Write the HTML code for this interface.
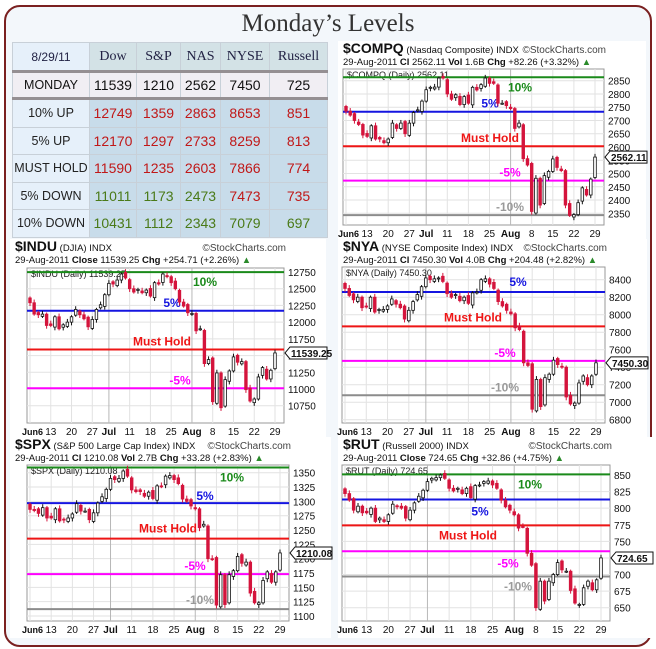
<!DOCTYPE html>
<html><head><meta charset="utf-8">
<style>
body{margin:0;background:#fff;}
#root{position:relative;width:656px;height:649px;overflow:hidden;font-family:"Liberation Sans",sans-serif;}
#frame{position:absolute;left:4px;top:5px;width:644px;height:638px;border:2px solid #7a2020;border-radius:16px;background:#f3f7fb;}
#title{position:absolute;left:0;top:10px;width:656px;text-align:center;font-family:"Liberation Serif",serif;font-size:25px;color:#333;}
table{position:absolute;left:12px;top:42px;width:315px;border-collapse:collapse;table-layout:fixed;font-size:13px;}
td{border:1px solid #c8d0d8;text-align:center;height:26px;padding:0;white-space:nowrap;overflow:hidden;}
td.c0{background:#e6f0fa;color:#222;font-size:12.5px;}
tr.hd td{background:#d3e2e6;font-family:"Liberation Serif",serif;font-size:14px;color:#224;height:27px;}
tr.hd td.c0{background:#e6f0fa;font-family:"Liberation Sans",sans-serif;font-size:12px;}
tr.mon td{background:#f1eef3;color:#111;border-top:3px solid #958f92;border-bottom:3px solid #958f92;height:24px;font-size:14px;}
tr.mon td.c0{font-size:12.5px;}
tr.b td{background:#c8dcea;height:26.5px;font-size:14px;}
tr.b td.c0{background:#e6f0fa;font-size:12.5px;}
.r{color:#c01818;} .g{color:#4a7a18;}
</style></head><body>
<div id="root">
<div id="frame"></div>
<div id="title">Monday’s Levels</div>
<table>
<colgroup><col style="width:77px"><col style="width:47px"><col style="width:44px"><col style="width:40px"><col style="width:49px"><col style="width:58px"></colgroup>
<tr class="hd"><td class="c0">8/29/11</td><td>Dow</td><td>S&amp;P</td><td>NAS</td><td>NYSE</td><td>Russell</td></tr>
<tr class="mon"><td class="c0">MONDAY</td><td>11539</td><td>1210</td><td>2562</td><td>7450</td><td>725</td></tr>
<tr class="b"><td class="c0">10% UP</td><td class="r">12749</td><td class="r">1359</td><td class="r">2863</td><td class="r">8653</td><td class="r">851</td></tr>
<tr class="b"><td class="c0">5% UP</td><td class="r">12170</td><td class="r">1297</td><td class="r">2733</td><td class="r">8259</td><td class="r">813</td></tr>
<tr class="b"><td class="c0">MUST HOLD</td><td class="r">11590</td><td class="r">1235</td><td class="r">2603</td><td class="r">7866</td><td class="r">774</td></tr>
<tr class="b"><td class="c0">5% DOWN</td><td class="g">11011</td><td class="g">1173</td><td class="g">2473</td><td class="r">7473</td><td class="r">735</td></tr>
<tr class="b"><td class="c0">10% DOWN</td><td class="g">10431</td><td class="g">1112</td><td class="g">2343</td><td class="g">7079</td><td class="g">697</td></tr>
</table>
<svg id="sv" width="656" height="649" style="position:absolute;left:0;top:0"></svg>
</div>
<script>
const dayLabels=["Jun6","13","20","27","Jul","11","18","25","Aug","8","15","22","29"];
const dayLabelIdx=[0,5,10,15,19,24,29,34,39,44,49,54,59];
const compqClose=[2735,2720,2700,2685,2645,2640,2680,2630,2630,2616,2630,2690,2670,2690,2650,2690,2730,2740,2773,2816,2825,2826,2860,2860,2800,2780,2797,2760,2790,2765,2825,2815,2835,2860,2840,2840,2765,2765,2756,2745,2670,2690,2556,2532,2357,2482,2381,2492,2508,2555,2523,2511,2381,2342,2345,2390,2446,2419,2479,2562];
const induClose=[12290,12120,12110,12120,11950,11950,12080,11900,11960,12000,12080,12190,12110,12050,11930,12040,12190,12260,12410,12580,12570,12630,12720,12660,12500,12450,12490,12440,12480,12390,12590,12570,12720,12680,12590,12500,12300,12240,12140,12130,11870,11900,11380,11440,10810,11240,10720,11140,11270,11480,11400,11410,10990,10820,10850,11180,11320,11150,11280,11539];
const nyaClose=[8300,8220,8170,8200,8080,8090,8200,8030,8060,8060,8100,8180,8120,8080,7950,8050,8150,8230,8320,8420,8400,8410,8420,8380,8240,8200,8230,8160,8200,8130,8250,8260,8400,8410,8350,8300,8150,8100,8050,8010,7850,7830,7450,7420,6920,7260,6950,7280,7320,7480,7430,7400,7060,6980,6990,7220,7300,7200,7300,7450];
const spxClose=[1286,1284,1279,1289,1271,1271,1287,1266,1268,1271,1278,1296,1283,1283,1268,1280,1297,1308,1321,1340,1338,1340,1353,1344,1320,1317,1317,1309,1316,1305,1327,1326,1344,1345,1338,1331,1304,1300,1292,1287,1254,1260,1200,1199,1119,1172,1120,1172,1179,1204,1192,1194,1140,1123,1123,1162,1177,1159,1177,1210];
const rutClose=[822,812,797,803,793,793,800,780,785,780,790,806,803,800,785,797,808,818,827,840,845,846,850,845,830,826,830,822,830,816,834,835,840,841,835,830,812,802,797,790,770,772,732,714,650,690,660,690,700,718,707,705,676,657,655,680,690,677,692,725];
const compqTicks=[2350,2400,2450,2500,2550,2600,2650,2700,2750,2800,2850];
const induTicks=[10750,11000,11250,11500,11750,12000,12250,12500,12750];
const nyaTicks=[6800,7000,7200,7400,7600,7800,8000,8200,8400];
const spxTicks=[1100,1125,1150,1175,1200,1225,1250,1275,1300,1325,1350];
const rutTicks=[650,675,700,725,750,775,800,825,850];
const compqLevels=[2863,2733,2603,2473,2343];
const induLevels=[12749,12170,11590,11011,10431];
const nyaLevels=[8653,8259,7866,7473,7079];
const spxLevels=[1359,1297,1235,1173,1112];
const rutLevels=[851,813,774,735,697];
const levelNames=["10%","5%","Must Hold","-5%","-10%"];
const levelColors=["#1a8a1a","#1515e0","#ee1515","#ff00ff","#8c8c8c"];
const textColors=["#1a8a1a","#1515e0","#ee1515","#ff00ff","#9a9a9a"];

const charts=[
 {name:"compq",sym:"$COMPQ",desc:"(Nasdaq Composite)",line2:["Cl","2562.11","Vol","1.6B","Chg","+82.26 (+3.32%)"],closes:compqClose,ticks:compqTicks,levels:compqLevels,
  L:343,R:604,T:69,B:225,tA:2850,yA:80.7,tB:2350,yB:213.3,ox:340,oy:40,lab:[[520,14],[490,-4],[490,-4],[510,-4],[510,-4]]},
 {name:"indu",sym:"$INDU",desc:"(DJIA)",line2:["Close","11539.25","Chg","+254.71 (+2.26%)"],closes:induClose,ticks:induTicks,levels:induLevels,
  L:27,R:284,T:268,B:423,tA:12750,yA:272,tB:10750,yB:405.7,ox:12,oy:238,lab:[[205,14],[172,-4],[162,-4],[180,-4],[180,-4]]},
 {name:"nya",sym:"$NYA",desc:"(NYSE Composite Index)",line2:["Cl","7450.30","Vol","4.0B","Chg","+204.48 (+2.82%)"],closes:nyaClose,ticks:nyaTicks,levels:nyaLevels,
  L:342,R:605,T:267,B:423,tA:8400,yA:279.7,tB:6800,yB:419.7,ox:340,oy:238,lab:[[520,14],[518,-6],[473,-5],[505,-4],[505,-4]]},
 {name:"spx",sym:"$SPX",desc:"(S&P 500 Large Cap Index)",line2:["Cl","1210.08","Vol","2.7B","Chg","+33.28 (+2.83%)"],closes:spxClose,ticks:spxTicks,levels:spxLevels,
  L:27,R:289,T:465,B:621,tA:1350,yA:472.7,tB:1100,yB:616,ox:12,oy:436,lab:[[232,14],[205,-3],[168,-6],[195,-4],[200,-5]]},
 {name:"rut",sym:"$RUT",desc:"(Russell 2000)",line2:["Close","724.65","Chg","+32.86 (+4.75%)"],closes:rutClose,ticks:rutTicks,levels:rutLevels,
  L:342,R:610,T:465,B:621,tA:850,yA:475,tB:650,yB:607.7,ox:340,oy:436,lab:[[530,14],[480,16],[468,14],[508,16],[518,14]]}
];
const NS="http://www.w3.org/2000/svg";
const sv=document.getElementById('sv');
function mk(tag,attrs,parent,txt){const e=document.createElementNS(NS,tag);for(const k in attrs)e.setAttribute(k,attrs[k]);if(txt!==undefined)e.textContent=txt;(parent||sv).appendChild(e);return e;}

charts.forEach(c=>{
 const g=mk('g',{});
 
 
 const y=v=>c.yA+(v-c.tA)*(c.yB-c.yA)/(c.tB-c.tA);
 const n=c.closes.length;
 const x=i=>c.L+3+i*(c.R-c.L-12)/(n-1);
 const bg=mk('rect',{x:c.ox-2,y:c.oy+1,width:c.R-c.ox+44,height:c.B-c.oy+16,fill:'#ffffff'},g);
 
 
 const h=mk('text',{x:c.ox+3,y:c.oy+13,'font-size':'14','font-weight':'bold',fill:'#111'},g);
 
 
 mk('tspan',{},h,c.sym);
 mk('tspan',{'font-size':'9.5','font-weight':'normal'},h,' '+c.desc+' INDX');
 const sc=mk('text',{x:c.R+2,y:c.oy+13,'font-size':'10',fill:'#444','text-anchor':'end'},g,'©StockCharts.com');
 
 
 const l2=mk('text',{x:c.ox+3,y:c.oy+25,'font-size':'9.5',fill:'#111'},g);
 
 
 mk('tspan',{},l2,'29-Aug-2011   ');
 c.line2.forEach((s,i)=>mk('tspan',{'font-weight':i%2==0?'bold':'normal'},l2,(i%2==0?'  ':' ')+s));
 mk('tspan',{fill:'#2a8a2a'},l2,' ▲');
 const pf=mk('rect',{x:c.L,y:c.T,width:c.R-c.L,height:c.B-c.T,fill:'#fff',stroke:'#999','stroke-width':1},g);
 
 
 c.ticks.forEach(t=>{const yy=y(t);if(yy<c.T||yy>c.B)return;
  mk('line',{x1:c.L,x2:c.R,y1:yy,y2:yy,stroke:'#e2e2e2'},g);
  const tl=mk('text',{x:c.R+4,y:yy+4,'font-size':'10',fill:'#111'},g,String(t));
  
  
 });
 dayLabelIdx.forEach((d,k)=>{const xx=x(d);
  mk('line',{x1:xx,x2:xx,y1:c.T,y2:c.B,stroke:(k==4||k==8)?'#b8b8b8':'#e2e2e2'},g);
  const tl=mk('text',{x:k==0?c.L-5:xx,y:c.B+12,'font-size':k==0?'9':'10','font-weight':(k==0||k==4||k==8)?'bold':'normal','text-anchor':k==0?'start':'middle',fill:'#111'},g,dayLabels[k]);
  
  
 });
 const il=mk('text',{x:c.L+4,y:c.T+9,'font-size':'9',fill:'#222'},g,c.sym+' (Daily) '+c.line2[1]);
 
 
 c.levels.forEach((v,k)=>{const yy=y(v);if(yy<c.T-1||yy>c.B+1)return;
  const ln=mk('line',{x1:c.L,x2:c.R,y1:yy,y2:yy,stroke:levelColors[k],'stroke-width':2},g);
  
  
  const lt=mk('text',{x:c.lab[k][0],y:yy+c.lab[k][1],'font-size':'12','font-weight':'bold','text-anchor':'middle',fill:textColors[k]},g,levelNames[k]);
  
  
 });
 const w=Math.max(2.4,(c.R-c.L)/n*0.6);
 const rng=(c.tA-c.tB)*0.012;
 c.closes.forEach((cl,i)=>{
  const op=i==0?cl+rng*3:c.closes[i-1]+((i%3)-1)*rng;
  const hi=Math.max(op,cl)+rng*(1+(i%2)), lo=Math.min(op,cl)-rng*(1+((i+1)%2));
  const up=cl>=op, xx=x(i);
  const wk=mk('line',{x1:xx,x2:xx,y1:y(hi),y2:y(lo),stroke:up?'#111':'#d4143c','stroke-width':1},g);
  
  
  const bt=y(Math.max(op,cl)), bh=Math.max(1,y(Math.min(op,cl))-bt);
  const cr=mk('rect',{x:xx-w/2,y:bt,width:w,height:bh,fill:up?'#fff':'#d4143c',stroke:up?'#111':'#d4143c','stroke-width':0.8},g);
  
  
 });
 const last=c.closes[n-1], ly=y(last);
 const bx=mk('path',{d:`M${c.R+1} ${ly} l5 -6 h37 v12 h-37 z`,fill:'#fff',stroke:'#111'},g);
 
 
 const bxt=mk('text',{x:c.R+7,y:ly+4,'font-size':'10','font-weight':'bold',fill:'#111'},g,c.line2[1]);
 
 
});
</script>
</body></html>
